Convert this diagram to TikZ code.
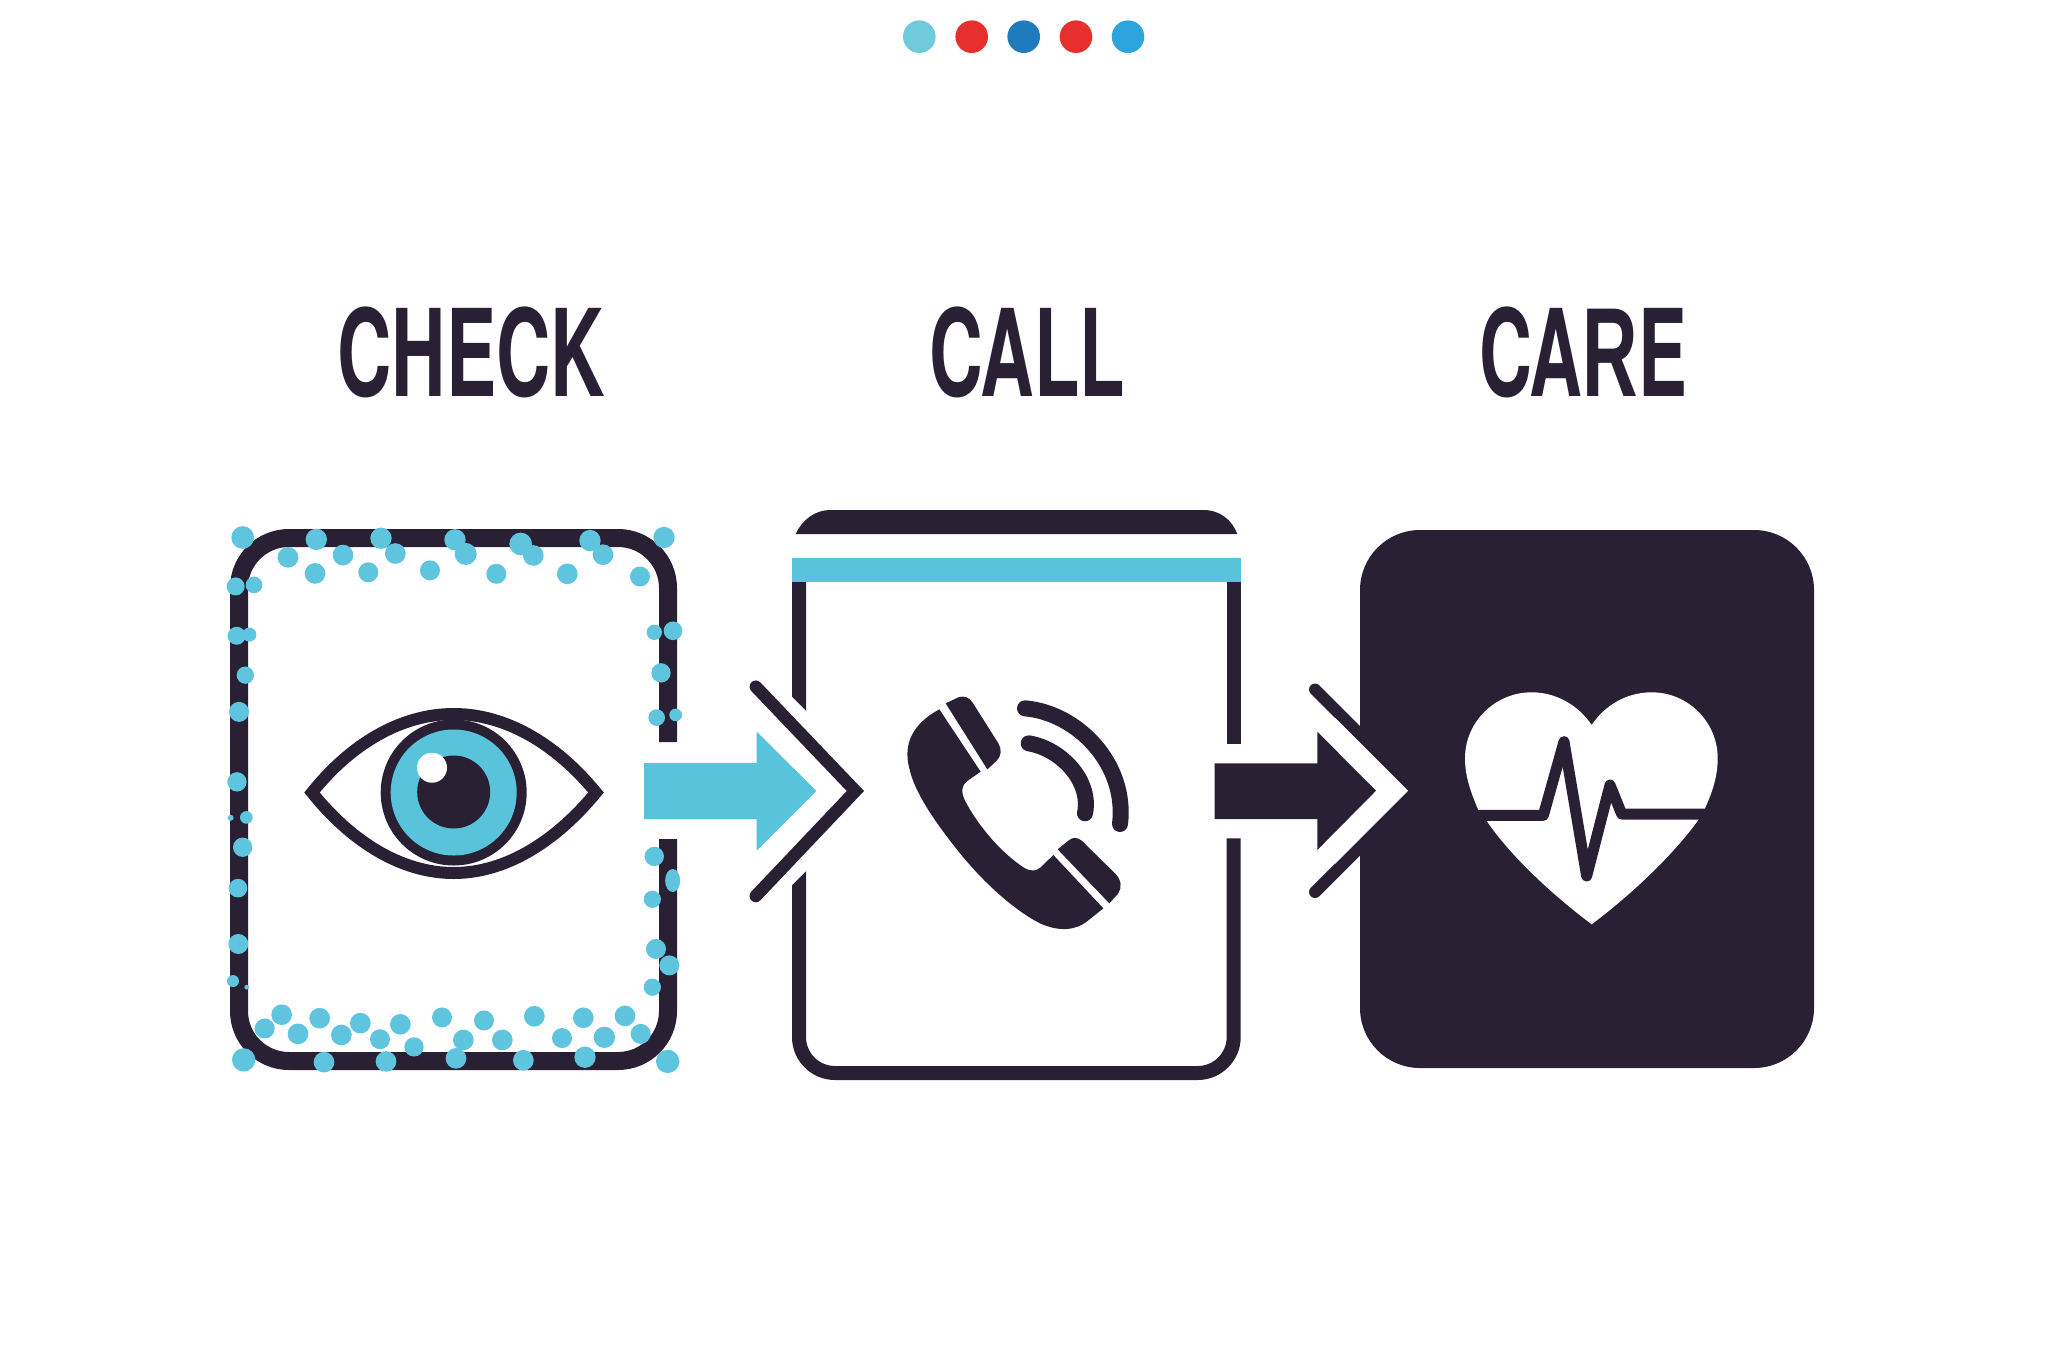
\documentclass[tikz,border=0pt]{standalone}
\usepackage{graphicx}
\usepackage{fontspec}
\newfontfamily\headfont{TeX Gyre Heros}
\newfontfamily\legfont[Scale=1.05]{Liberation Sans}
\definecolor{ink}{HTML}{2A2034}
\definecolor{teal}{HTML}{5AC3DC}
\definecolor{speck}{HTML}{5FC5DF}
\definecolor{dotA}{HTML}{6FCBDC}
\definecolor{dotB}{HTML}{E5302E}
\definecolor{dotC}{HTML}{1E7CBC}
\definecolor{dotD}{HTML}{2BA5DB}
\tikzset{
  x=1pt,y=-1pt,
  title/.style={inner sep=0pt,text=ink,anchor=north west},
  topdot/.style={radius=16.3pt},
  wall/.style={draw=ink,line width=14pt,line join=miter},
  chev/.style={line width=12.5pt,line cap=round,line join=miter,miter limit=10},
}
\newcommand{\headword}[3]{\resizebox*{#1pt}{#2pt}{\headfont\bfseries #3}}
\begin{document}
\begin{tikzpicture}
\fill[white] (0,0) rectangle (2048,1365);
\useasboundingbox (0,0) rectangle (2048,1365);

% top dots
\fill[dotA] (919.3,36.7) circle[topdot];
\fill[dotB] (971.7,36.7) circle[topdot];
\fill[dotC] (1023.7,36.7) circle[topdot];
\fill[dotB] (1076,36.7) circle[topdot];
\fill[dotD] (1128,36.7) circle[topdot];

% titles
\node[title] (check) at (337,307) {\headword{268}{91}{CHECK}};
\node[title] (call) at (929,307) {\headword{196}{91}{CALL}};
\node[title] (care) at (1479,307) {\headword{208}{91}{CA{\legfont\bfseries R}E}};

% CHECK panel
\draw[ink,line width=18pt,rounded corners=50pt]
  (668,742) -- (668,538) -- (239,538) -- (239,1061) -- (668,1061) -- (668,839);

% eye
\fill[ink] (453.7,792.5) circle[radius=73pt];
\fill[teal] (453.7,792.5) circle[radius=63pt];
\fill[ink] (453.7,792) circle[radius=36.5pt];
\fill[white] (432,767.7) circle[radius=15pt];
\draw[ink,line width=12pt,line join=miter,miter limit=10]
  (312,792.5) .. controls (350,745) and (400,714) .. (453.7,714)
  .. controls (507,714) and (557,745) .. (596,792.5)
  .. controls (557,840) and (507,873) .. (453.7,873)
  .. controls (400,873) and (350,840) .. (312,792.5) -- cycle;

% specks
\begin{scope}[shift={(210,500)},x=0.33333pt,y=-0.38241pt]
\foreach \px/\py/\pr in {
 98/98/34,319/103/32,513/100/32,735/104/32,932/115/34,1140/106/32,1362/98/32,
 234/150/31,399/144/31,556/140/31,767/141/33,970/145/31,1179/143/31,
 315/192/31,475/189/30,660/184/30,859/193/30,1072/193/31,1290/200/30,
 77/226/27,132/222/25,80/355/27,118/352/21,106/458/26,87/554/30,81/737/29,
 62/831/9,109/830/19,98/908/29,84/1015/28,85/1161/30,69/1258/18,110/1274/7,
 1333/346/23,1389/342/28,1353/452/29,1340/569/25,1397/562/19,1333/932/29,
 1327/1044/26,1338/1174/30,1378/1217/30,1327/1274/26,
 215/1346/31,329/1355/31,451/1368/31,571/1371/31,696/1353/30,822/1361/30,
 973/1350/31,1120/1354/31,1245/1349/31,
 164/1382/30,264/1396/31,394/1399/31,510/1410/30,612/1430/29,760/1412/31,
 877/1412/31,1056/1407/30,1183/1405/32,1292/1396/30,
 101/1464/35,342/1470/31,528/1468/31,738/1460/31,940/1465/31,1125/1457/32,1373/1468/35}
  \fill[speck] (\px,\py) circle[radius=\pr*0.33333pt];
\fill[speck] (1388,995) ellipse[x radius=7.5pt,y radius=11.5pt];
\end{scope}

% CALL panel
\fill[ink] (795.7,534) .. controls (802,520) and (815,510) .. (830,510)
  -- (1203.3,510) .. controls (1220,510) and (1232,520) .. (1237.3,534) -- cycle;
\draw[wall,rounded corners=36pt] (799,582) -- (799,1073) -- (1233.7,1073) -- (1233.7,838.3);
\draw[wall] (1233.7,744.3) -- (1233.7,582);
\fill[teal] (792.3,558.3) rectangle (1240.7,582.3);
\fill[white] (780,685) -- (886,791) -- (780,897) -- cycle;

% teal arrow and chevron
\fill[teal] (644,763) -- (756.7,763) -- (756.7,731.7) -- (816.4,791)
  -- (756.7,850.7) -- (756.7,819) -- (644,819) -- cycle;
\draw[ink,chev] (755.8,686.7) -- (855.4,791) -- (755.8,896);

% phone
\begin{scope}[shift={(890,680)},x=0.33333pt,y=-0.33333pt]
\fill[ink] (148,88) -- (272,275) -- (232,303)
  .. controls (215,315) and (212,335) .. (225,362)
  .. controls (255,420) and (320,510) .. (405,565)
  .. controls (425,575) and (440,573) .. (452,562)
  -- (490,525) -- (640,685) -- (590,725)
  .. controls (555,752) and (505,755) .. (450,730)
  .. controls (390,700) and (300,630) .. (210,520)
  .. controls (150,445) and (75,345) .. (58,265)
  .. controls (38,190) and (70,130) .. (148,88) -- cycle;
\fill[ink] (167,70) -- (205,52) .. controls (222,46) and (238,52) .. (248,68)
  -- (325,190) .. controls (336,208) and (334,228) .. (320,242)
  -- (292,268) -- cycle;
\fill[ink] (503,508) -- (535,482) .. controls (548,470) and (563,472) .. (575,482)
  -- (675,580) .. controls (695,600) and (696,622) .. (685,640) -- (658,670) -- cycle;
\draw[ink,line width=16pt,line cap=round] (405,85) .. controls (560,98) and (712,250) .. (690,432);
\draw[ink,line width=16pt,line cap=round] (416,190) .. controls (510,205) and (605,300) .. (585,400);
\end{scope}

% CARE panel
\fill[ink,rounded corners=60pt] (1360,530) rectangle (1814,1068);
\draw[ink,line width=12pt,line cap=round] (1315,689.5) -- (1392,766.5);
\draw[ink,line width=12pt,line cap=round] (1315,892) -- (1392,815);
\fill[white] (1408,790.75) -- (1335,717.75) -- (1335,863.75) -- cycle;
\fill[ink] (1214.5,763.3) -- (1317.3,763.3) -- (1317.3,731.7) -- (1376,790.7)
  -- (1317.3,850) -- (1317.3,819) -- (1214.5,819) -- cycle;

% heart
\fill[white] (1591.7,725)
  .. controls (1578,705) and (1556,692.3) .. (1531.7,692.3)
  .. controls (1495,692.3) and (1465,722) .. (1465,758.3)
  .. controls (1465,778) and (1472,795) .. (1478.3,810)
  -- (1486.7,821)
  .. controls (1510,855) and (1550,893) .. (1591.7,924.3)
  .. controls (1633,893) and (1673,855) .. (1698.3,820)
  -- (1705,808.3)
  .. controls (1711,795) and (1717.7,778) .. (1717.7,758.3)
  .. controls (1717.7,722) and (1688,692.3) .. (1651.7,692.3)
  .. controls (1627,692.3) and (1605,705) .. (1591.7,725) -- cycle;
\begin{scope}[shift={(1420,660)},x=0.33333pt,y=-0.33333pt]
\draw[ink,line width=11pt,line join=round,line cap=butt]
  (150,466) -- (370,466) -- (432,245) -- (500,648) -- (570,375) -- (605,462) -- (870,462);
\end{scope}
\end{tikzpicture}
\end{document}
